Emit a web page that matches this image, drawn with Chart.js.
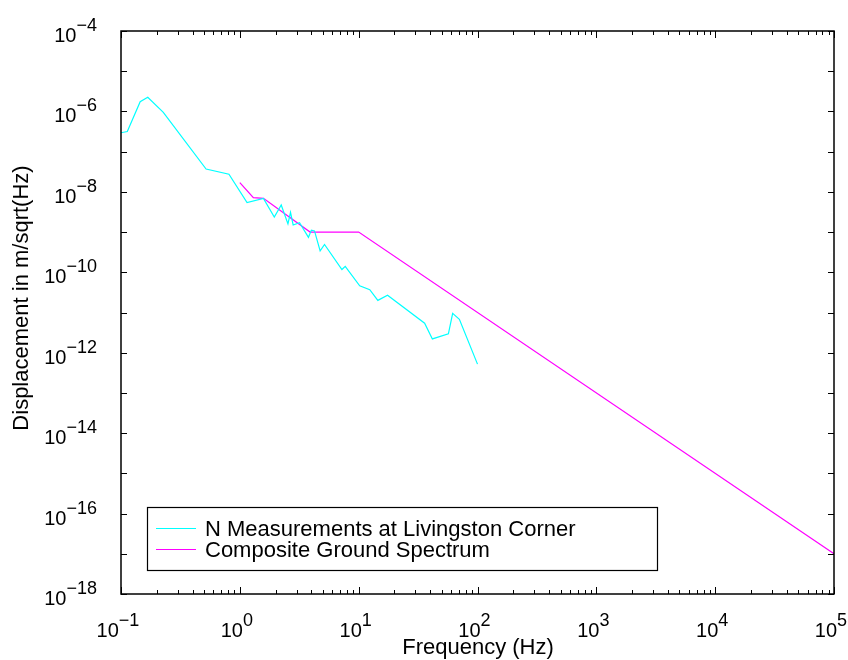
<!DOCTYPE html>
<html>
<head>
<meta charset="utf-8">
<script src="https://cdn.jsdelivr.net/npm/chart.js@4/dist/chart.umd.min.js"></script>
<style>
  html, body { margin: 0; padding: 0; background: #fff; }
  #spectrum-chart { display: block; }
</style>
</head>
<body>
<canvas id="spectrum-chart" width="848" height="660"></canvas>
<script>
// --- Data ---
const measFreq = [0.1, 0.113, 0.145, 0.168, 0.227, 0.52, 0.81, 1.15, 1.58, 1.95, 2.23, 2.54, 2.67, 2.81, 3.18, 3.78,
    4.0, 4.25, 4.74, 5.16, 7.23, 7.71, 10.2, 12.4, 14.5, 17.5, 35.9, 41.7, 56.9, 61.8, 70.4, 100];
const measDisp = [2.95e-7, 3.16e-7, 1.74e-6, 2.24e-6, 9.5e-7, 3.7e-8, 2.75e-8, 5.4e-9, 6.9e-9, 2.35e-9, 4.7e-9, 1.6e-9,
    3.1e-9, 1.5e-9, 1.7e-9, 7.4e-10, 1.12e-9, 1.07e-9, 3.4e-10, 4.9e-10, 1.17e-10, 1.4e-10, 4.6e-11, 3.7e-11,
    2.0e-11, 2.7e-11, 5.4e-12, 2.2e-12, 2.95e-12, 9.5e-12, 6.8e-12, 5.2e-13];
const groundFreq = [1, 1.3, 1.58, 3.9, 10, 1e5];
const groundDisp = [1.7e-8, 7.2e-9, 6.9e-9, 1e-9, 1e-9, 1e-17];
const seriesLabels = ['N Measurements at Livingston Corner', 'Composite Ground Spectrum'];
const xTickExps = [-1, 0, 1, 2, 3, 4, 5];
const yTickExps = [-18, -17, -16, -15, -14, -13, -12, -11, -10, -9, -8, -7, -6, -5, -4];
const yLabelExps = [-18, -16, -14, -12, -10, -8, -6, -4];

const FONT = '"Liberation Sans", Arial, Helvetica, sans-serif';

document.addEventListener('DOMContentLoaded', () => {
    const ctx = document.getElementById('spectrum-chart').getContext('2d');

    const toPoints = (xs, ys) => xs.map((x, i) => ({ x: x, y: ys[i] }));

    const expString = exp => (exp < 0 ? '\u2212' + Math.abs(exp) : String(exp));

    // draws "10" with a raised exponent; left = left edge of the "10"
    function drawPower(c, exp, left, baseY) {
        c.font = '20px ' + FONT;
        c.textAlign = 'left';
        c.textBaseline = 'alphabetic';
        c.fillText('10', left, baseY);
        const baseW = c.measureText('10').width;
        c.font = '18px ' + FONT;
        c.fillText(expString(exp), left + baseW, baseY - 11);
    }

    function powerWidth(c, exp) {
        c.font = '20px ' + FONT;
        const w1 = c.measureText('10').width;
        c.font = '18px ' + FONT;
        return w1 + c.measureText(expString(exp)).width;
    }

    const matlabAxes = {
        id: 'matlabAxes',
        beforeDraw(chart) {
            const c = chart.ctx;
            c.save();
            c.fillStyle = '#fff';
            c.fillRect(0, 0, chart.width, chart.height);
            c.restore();
        },
        afterDatasetsDraw(chart) {
            const c = chart.ctx;
            const a = chart.chartArea;
            const xs = chart.scales.x;
            const ys = chart.scales.y;
            c.save();
            c.strokeStyle = '#000';
            c.fillStyle = '#000';
            c.lineWidth = 1;

            // y ticks, every decade, inside on both sides
            yTickExps.forEach(e => {
                const py = Math.round(ys.getPixelForValue(Math.pow(10, e))) + 0.5;
                c.beginPath();
                c.moveTo(a.left, py); c.lineTo(a.left + 6, py);
                c.moveTo(a.right, py); c.lineTo(a.right - 6, py);
                c.stroke();
            });
            // x ticks, major + minor
            xTickExps.forEach(e => {
                for (let m = 1; m <= 9; m++) {
                    if (e === xTickExps[xTickExps.length - 1] && m > 1) break;
                    const px = Math.round(xs.getPixelForValue(m * Math.pow(10, e))) + 0.5;
                    const len = m === 1 ? 7 : 4;
                    c.beginPath();
                    c.moveTo(px, a.bottom); c.lineTo(px, a.bottom - len);
                    c.moveTo(px, a.top); c.lineTo(px, a.top + len);
                    c.stroke();
                }
            });

            // frame
            c.lineWidth = 1.5;
            c.strokeRect(a.left, a.top, a.right - a.left, a.bottom - a.top);

            // tick labels
            yLabelExps.forEach(e => {
                const py = ys.getPixelForValue(Math.pow(10, e));
                const w = powerWidth(c, e);
                drawPower(c, e, 97 - w, py + 11);
            });
            xTickExps.forEach(e => {
                const px = xs.getPixelForValue(Math.pow(10, e));
                const w = powerWidth(c, e);
                drawPower(c, e, px - 3 - w / 2, a.bottom + 43);
            });

            // axis titles
            c.font = '22px ' + FONT;
            c.textAlign = 'center';
            c.textBaseline = 'alphabetic';
            c.fillText('Frequency (Hz)', 478, 654);
            c.save();
            c.translate(28, 298);
            c.rotate(-Math.PI / 2);
            c.fillText('Displacement in m/sqrt(Hz)', 0, 0);
            c.restore();

            // legend box
            c.fillStyle = '#fff';
            c.fillRect(147, 507, 511, 64);
            c.lineWidth = 1.2;
            c.strokeStyle = '#000';
            c.strokeRect(147.5, 507.5, 510, 63);
            chart.data.datasets.forEach((ds, i) => {
                const ly = 528.5 + i * 21;
                c.strokeStyle = ds.borderColor;
                c.lineWidth = 1;
                c.beginPath();
                c.moveTo(156, ly); c.lineTo(196, ly);
                c.stroke();
                c.fillStyle = '#000';
                c.font = '22px ' + FONT;
                c.textAlign = 'left';
                c.textBaseline = 'middle';
                c.fillText(ds.label, 205, ly + 1);
            });
            c.restore();
        }
    };

    new Chart(ctx, {
        type: 'line',
        data: {
            datasets: [
                {
                    label: seriesLabels[0],
                    data: toPoints(measFreq, measDisp),
                    borderColor: 'rgb(0, 255, 255)',
                    borderWidth: 1.2,
                    pointRadius: 0,
                    tension: 0,
                    fill: false
                },
                {
                    label: seriesLabels[1],
                    data: toPoints(groundFreq, groundDisp),
                    borderColor: 'rgb(255, 0, 255)',
                    borderWidth: 1.2,
                    pointRadius: 0,
                    tension: 0,
                    fill: false
                }
            ]
        },
        options: {
            responsive: false,
            animation: false,
            events: [],
            layout: { padding: { left: 121, top: 31, right: 14, bottom: 66 } },
            plugins: { legend: { display: false }, tooltip: { enabled: false } },
            scales: {
                x: { type: 'logarithmic', min: 0.1, max: 1e5, display: false },
                y: { type: 'logarithmic', min: 1e-18, max: 1e-4, display: false }
            }
        },
        plugins: [matlabAxes]
    });
});
</script>
</body>
</html>
